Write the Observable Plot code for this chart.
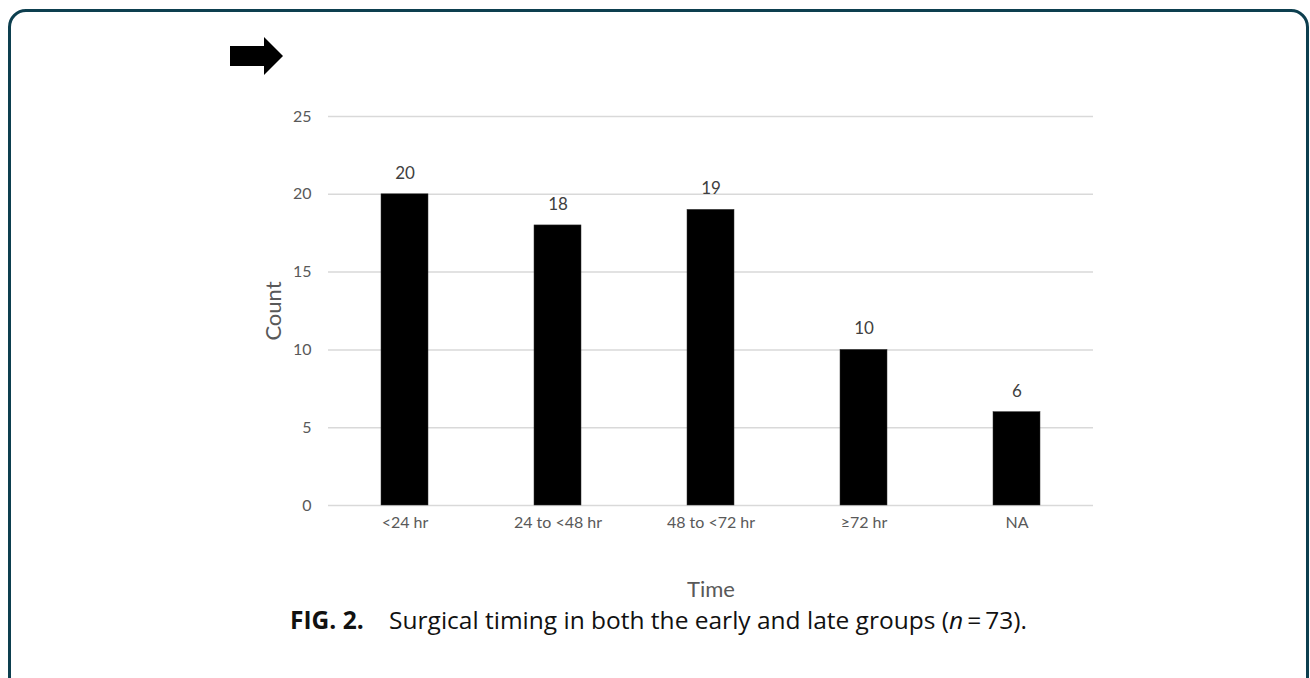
<!DOCTYPE html>
<html>
<head>
<meta charset="utf-8">
<script src="https://cdn.jsdelivr.net/npm/d3@7"></script>
<script src="https://cdn.jsdelivr.net/npm/@observablehq/plot@0.6"></script>
<style>
  html, body { margin: 0; padding: 0; background: #fff; width: 1310px; height: 678px; overflow: hidden; }
  #frame { position: absolute; left: 8px; top: 9px; width: 1301px; height: 720px; box-sizing: border-box;
           border: 3px solid #0d3f4f; border-radius: 18px; }
  #arrow { position: absolute; left: 0; top: 0; }
  #chart { position: absolute; left: 0; top: 0; }
  #caption { position: absolute; left: 290px; top: 608px; font-family: "Open Sans", sans-serif; font-size: 24.5px; line-height: 24.5px; color: #111; white-space: pre; }
  #caption b { font-weight: 700; }
</style>
</head>
<body>
<div id="frame"></div>
<svg id="arrow" width="300" height="90"><polygon points="230,46 264,46 264,37 283,56 264,75 264,66 230,66" fill="#000"/></svg>
<div id="chart"></div>
<div id="caption"><b>FIG. 2.</b>    Surgical timing in both the early and late groups (<i>n</i>&#8201;=&#8201;73).</div>
<script>
const categories = ["<24 hr", "24 to <48 hr", "48 to <72 hr", "≥72 hr", "NA"];
const counts = [20, 18, 19, 10, 6];
const yTicks = [0, 5, 10, 15, 20, 25];

const data = categories.map((c, i) => ({category: c, count: counts[i]}));

const chart = Plot.plot({
  width: 1310,
  height: 620,
  marginLeft: 328,
  marginRight: 217,
  marginTop: 116,
  marginBottom: 115,
  style: {fontFamily: "Lato, sans-serif", fontSize: "16px", color: "#595959", background: "transparent"},
  x: {domain: categories, paddingInner: 0.69, paddingOuter: 0.345, label: null},
  y: {domain: [0, 25], label: null},
  marks: [
    Plot.ruleY(yTicks, {stroke: "#d9d9d9", strokeWidth: 1.5}),
    Plot.barY(data, {x: "category", y: "count", fill: "#000", stroke: "#333", strokeWidth: 0.5}),
    Plot.text(data, {x: "category", y: "count", text: d => String(d.count), dy: -21, fill: "#404040", fontSize: 17}),
    Plot.axisY(yTicks, {tickSize: 0, tickPadding: 17, fill: "#595959", fontSize: 16, label: null}),
    Plot.axisX({tickSize: 0, tickPadding: 11, fill: "#595959", fontSize: 16, label: null}),
    Plot.text(["Count"], {frameAnchor: "left", textAnchor: "middle", lineAnchor: "middle", dx: -55, rotate: -90, fontSize: 22, fill: "#595959"}),
    Plot.text(["Time"], {frameAnchor: "bottom", textAnchor: "middle", lineAnchor: "middle", dy: 84, fontSize: 22, fill: "#595959"})
  ]
});
document.getElementById("chart").appendChild(chart);
</script>
</body>
</html>
